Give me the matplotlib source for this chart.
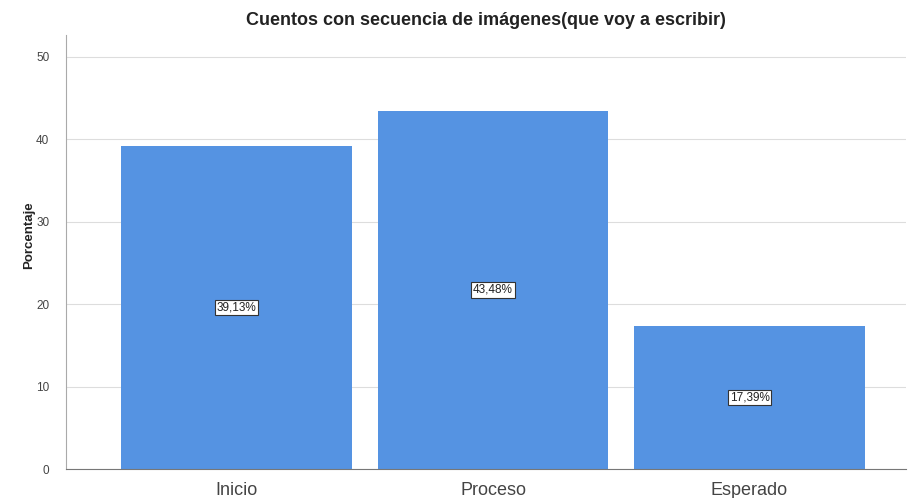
import matplotlib.pyplot as plt

categorias = ['Inicio', 'Proceso', 'Esperado']
porcentajes = [39.13, 43.48, 17.39]
yticks = [0, 10, 20, 30, 40, 50]

plt.rcParams['font.family'] = ['Liberation Sans', 'DejaVu Sans']

fig = plt.figure(figsize=(9.13, 4.98), dpi=100)
ax = fig.add_axes([0.0723, 0.0582, 0.920, 0.872])

x = range(len(categorias))
ax.bar(x, porcentajes, width=0.9, color='#5593E2', zorder=2)
for xi, v in zip(x, porcentajes):
    ax.text(xi, v / 2, ('%.2f' % v).replace('.', ',') + '%', ha='center', va='center',
            fontsize=8.5, color='#222222', zorder=3,
            bbox=dict(boxstyle='square,pad=0.15', fc='white', ec='#333333', lw=0.8))

ax.set_xlim(-0.665, 2.61)
ax.set_ylim(0, 52.67)
ax.set_yticks(yticks)
ax.set_xticks(list(x))
ax.set_xticklabels(categorias, fontsize=13, color='#444444')
ax.tick_params(axis='y', length=0, labelsize=8.5, colors='#444444', pad=12)
ax.tick_params(axis='x', length=0, pad=9)
ax.yaxis.grid(True, color='#dddddd', lw=0.8, zorder=0)
ax.set_axisbelow(True)
for s in ['top', 'right']:
    ax.spines[s].set_visible(False)
ax.spines['left'].set_color('#aaaaaa')
ax.spines['bottom'].set_color('#777777')
ax.set_ylabel('Porcentaje', fontsize=9.5, fontweight='bold', color='#222222')
ax.yaxis.set_label_coords(-0.037, 0.539)
ax.set_title('Cuentos con secuencia de imágenes(que voy a escribir)', fontsize=13,
             fontweight='bold', color='#222222', pad=7)

plt.savefig('out.png', dpi=100)
